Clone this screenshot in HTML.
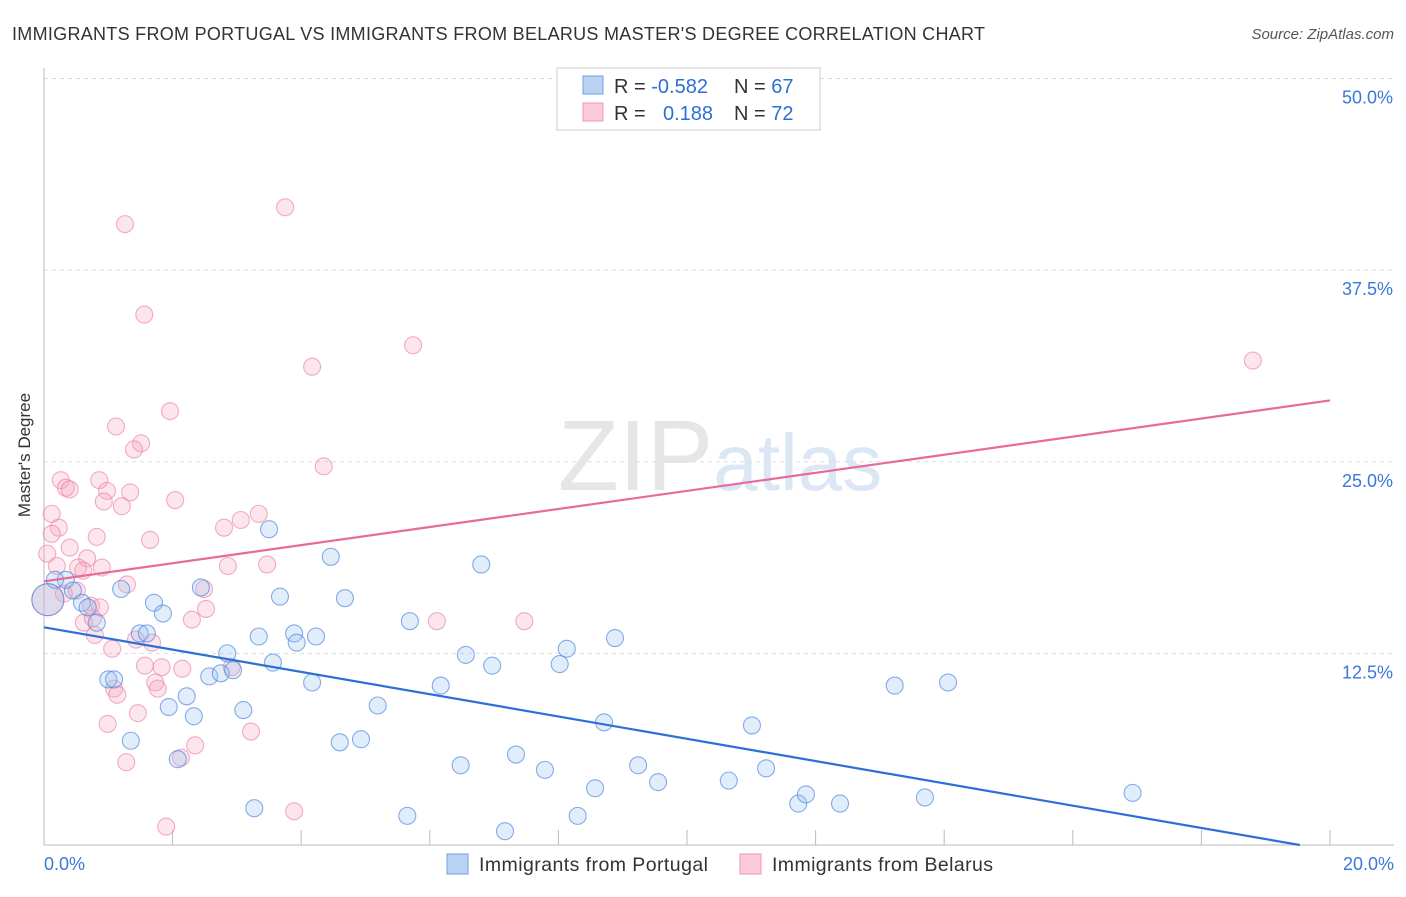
<!DOCTYPE html>
<html><head><meta charset="utf-8"><style>
body{margin:0;background:#fff;font-family:"Liberation Sans",sans-serif;}
svg text{font-family:"Liberation Sans",sans-serif;}
</style></head><body>
<svg id="chart" width="1406" height="892">
<text x="12" y="40" font-size="18" fill="#333" textLength="973">IMMIGRANTS FROM PORTUGAL VS IMMIGRANTS FROM BELARUS MASTER'S DEGREE CORRELATION CHART</text>
<text x="1394" y="39" font-size="15" fill="#555" text-anchor="end" font-style="italic">Source: ZipAtlas.com</text>
<text x="30" y="455" font-size="17" fill="#333" text-anchor="middle" transform="rotate(-90 30 455)">Master's Degree</text>
<text x="720" y="490" font-size="100" fill="#e6e6e6" text-anchor="middle" font-family="Liberation Serif">ZIP<tspan fill="#dbe7f5" font-family="Liberation Sans" font-size="80">atlas</tspan></text>
<g id="grid"></g><g id="pts"></g><g id="lines"></g>
<g>
<rect x="557" y="68" width="263" height="62" fill="#fff" stroke="#ccc"/>
<rect x="583" y="76" width="20" height="18" fill="#b9d3f5" stroke="#6fa0e0"/>
<rect x="583" y="103" width="20" height="18" fill="#fbcad8" stroke="#ee95b0"/>
<text x="614" y="93" font-size="20" fill="#333">R = <tspan fill="#2d6fd6">-0.582</tspan><tspan x="734">N = </tspan><tspan fill="#2d6fd6">67</tspan></text>
<text x="614" y="120" font-size="20" fill="#333">R = <tspan fill="#2d6fd6" x="663">0.188</tspan><tspan x="734">N = </tspan><tspan fill="#2d6fd6">72</tspan></text>
</g>
<g>
<rect x="447" y="854" width="21" height="20" fill="#b9d3f5" stroke="#6fa0e0"/>
<text x="479" y="871" font-size="19.5" fill="#333" textLength="229">Immigrants from Portugal</text>
<rect x="740" y="854" width="21" height="20" fill="#fbcad8" stroke="#ee95b0"/>
<text x="772" y="871" font-size="19.5" fill="#333" textLength="221">Immigrants from Belarus</text>
</g>
</svg>
<script>
const yTicks=[12.5,25,37.5,50];
const xTickLabels=["0.0%","20.0%"];
const blueX=[0.34,0.17,0.45,0.59,0.68,0.82,1.2,1.0,1.09,1.35,1.49,1.6,1.71,1.85,1.94,2.08,2.22,2.33,2.44,2.57,2.75,2.85,2.94,3.1,3.27,3.34,3.5,3.56,3.67,3.89,3.93,4.17,4.23,4.46,4.6,4.68,4.93,5.19,5.65,5.69,6.17,6.48,6.56,6.8,6.97,7.17,7.34,7.79,8.02,8.13,8.3,8.57,8.71,8.88,9.24,9.55,10.65,11.01,11.23,11.73,11.85,12.38,13.23,13.7,14.06,16.93,0.06];
const blueY=[17.3,17.3,16.6,15.8,15.5,14.5,16.7,10.8,10.8,6.8,13.8,13.8,15.8,15.1,9.0,5.6,9.7,8.4,16.8,11.0,11.2,12.5,11.4,8.8,2.4,13.6,20.6,11.9,16.2,13.8,13.2,10.6,13.6,18.8,6.7,16.1,6.9,9.1,1.9,14.6,10.4,5.2,12.4,18.3,11.7,0.9,5.9,4.9,11.8,12.8,1.9,3.7,8.0,13.5,5.2,4.1,4.2,7.8,5.0,2.7,3.3,2.7,10.4,3.1,10.6,3.4,16.0];
const pinkX=[1.26,3.75,1.56,5.74,4.17,18.8,1.96,1.12,1.51,1.4,4.35,0.26,0.34,0.4,0.86,0.98,0.93,1.34,1.21,2.04,0.12,0.23,0.12,2.8,3.06,3.34,0.82,1.65,0.4,0.05,0.67,0.2,0.53,0.61,0.9,2.86,3.47,1.29,2.49,0.31,0.51,0.73,0.87,2.52,0.62,0.76,2.3,6.11,7.47,0.79,1.43,1.68,1.06,1.57,1.83,2.15,2.92,1.73,1.77,1.09,1.14,1.46,0.99,3.22,2.35,1.28,2.13,1.9,3.89,0.06];
const pinkY=[40.5,41.6,34.6,32.6,31.2,31.6,28.3,27.3,26.2,25.8,24.7,23.8,23.3,23.2,23.8,23.1,22.4,23.0,22.1,22.5,21.6,20.7,20.3,20.7,21.2,21.6,20.1,19.9,19.4,19.0,18.7,18.2,18.1,17.9,18.1,18.2,18.3,17.0,16.7,16.4,16.6,15.6,15.5,15.4,14.5,14.8,14.7,14.6,14.6,13.7,13.4,13.2,12.8,11.7,11.6,11.5,11.6,10.6,10.2,10.2,9.8,8.6,7.9,7.4,6.5,5.4,5.7,1.2,2.2,16.0];
const bigIdx=66, bigPink=69;
const blueLine=[[0,14.2],[19.53,0]];
const pinkLine=[[0,17.2],[20,29.0]];
const sx=v=>44+v*64.3, sy=v=>845-v*15.33;
const NS="http://www.w3.org/2000/svg";
function mk(t,a,p){const e=document.createElementNS(NS,t);for(const k in a)e.setAttribute(k,a[k]);p.appendChild(e);return e;}
const grid=document.getElementById('grid');
yTicks.forEach(t=>{
 const l=mk('line',{x1:44,x2:1394,y1:sy(t),y2:sy(t),stroke:'#ddd','stroke-dasharray':'4,4'},grid);
 
 
 const tx=mk('text',{x:1393,y:sy(t)+25,'font-size':18,fill:'#3b78d8','text-anchor':'end'},grid);
 tx.textContent=t.toFixed(1)+'%';
 
 
});
const ax=mk('line',{x1:44,x2:44,y1:68,y2:845,stroke:'#bbb'},grid);


const bx=mk('line',{x1:44,x2:1394,y1:845,y2:845,stroke:'#bbb'},grid);


for(let i=0;i<=10;i++){const tk=mk('line',{x1:sx(i*2),x2:sx(i*2),y1:830,y2:845,stroke:'#bbb'},grid);
 
 }
[[0,'start',44],[20,'end',1394]].forEach((d,i)=>{const t=mk('text',{x:d[2],y:870,'font-size':18,fill:'#3b78d8','text-anchor':d[1]},grid);t.textContent=xTickLabels[i];
 
 });
const pts=document.getElementById('pts');
pinkX.forEach((x,i)=>{const c=mk('circle',{cx:sx(x),cy:sy(pinkY[i]),r:i==bigPink?16:8.5,fill:'rgba(246,160,188,0.28)',stroke:'rgba(236,130,165,0.65)','stroke-width':1.1},pts);
 
 });
blueX.forEach((x,i)=>{const c=mk('circle',{cx:sx(x),cy:sy(blueY[i]),r:i==bigIdx?16:8.5,fill:'rgba(150,190,240,0.28)',stroke:'rgba(70,130,220,0.65)','stroke-width':1.1},pts);
 
 });
const lines=document.getElementById('lines');
const bl=mk('line',{x1:sx(blueLine[0][0]),y1:sy(blueLine[0][1]),x2:sx(blueLine[1][0]),y2:sy(blueLine[1][1]),stroke:'#2d6fd6','stroke-width':2.2},lines);


const pl=mk('line',{x1:sx(pinkLine[0][0]),y1:sy(pinkLine[0][1]),x2:sx(pinkLine[1][0]),y2:sy(pinkLine[1][1]),stroke:'#e8699a','stroke-width':2.2},lines);


</script>
</body></html>
